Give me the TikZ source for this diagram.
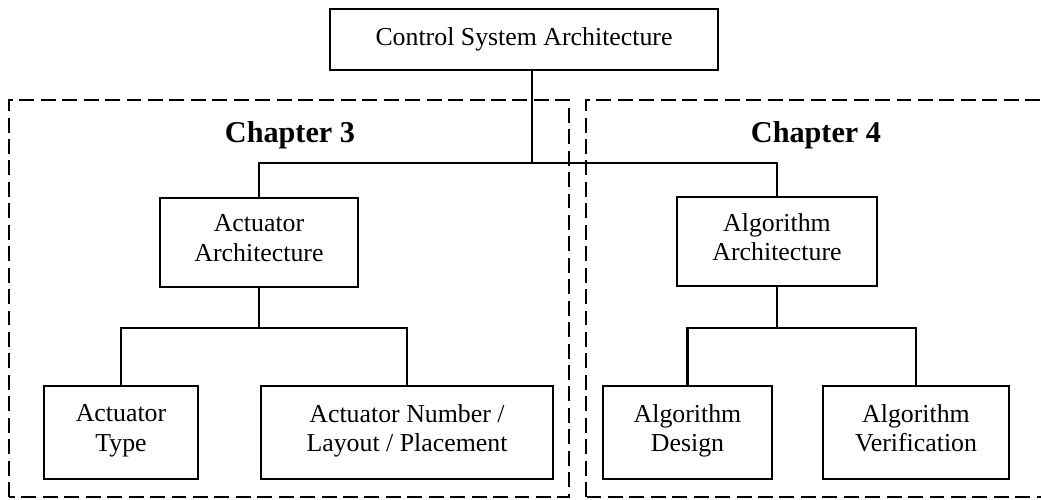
\documentclass[tikz,border=0pt]{standalone}
\usepackage{fontspec}
\setmainfont{Liberation Serif}

\begin{document}
\begin{tikzpicture}[line width=1.3pt,
  box/.style={draw, align=center, inner sep=0pt, font=\fontsize{14.7}{16.8}\selectfont,
    execute at begin node=\strut, execute at end node=\strut},
  chapframe/.style={dash pattern=on 8.5pt off 3.7pt, line width=1.2pt},
  chaptitle/.style={anchor=base, font=\fontsize{17.2}{20}\selectfont\bfseries}]
  \useasboundingbox (0,0) rectangle (20.82,10);

  % chapter frames
  \draw[chapframe] (0.18,0.06) rectangle (11.38,8.0);
  \draw[chapframe] (11.72,0.06) rectangle (21.3,8.0);
  \node[chaptitle] (ch3) at (5.8,7.14) {Chapter 3};
  \node[chaptitle] (ch4) at (16.32,7.14) {Chapter 4};

  % top level
  \node[box, minimum width=7.76cm, minimum height=1.22cm] (csa) at (10.48,9.21) {Control System Architecture};

  % second level
  \node[box, minimum width=3.96cm, minimum height=1.78cm] (actarch) at (5.18,5.15) {Actuator\\Architecture};
  \node[box, minimum width=4.0cm, minimum height=1.78cm] (algarch) at (15.54,5.17) {Algorithm\\Architecture};

  % third level
  \node[box, minimum width=3.08cm, minimum height=1.86cm] (acttype) at (2.42,1.35) {Actuator\\Type};
  \node[box, minimum width=5.84cm, minimum height=1.86cm] (actnum) at (8.14,1.35) {Actuator Number /\\Layout / Placement};
  \node[box, minimum width=3.38cm, minimum height=1.86cm] (algdes) at (13.75,1.35) {Algorithm\\Design};
  \node[box, minimum width=3.72cm, minimum height=1.86cm] (algver) at (18.32,1.35) {Algorithm\\Verification};

  % branch points
  \coordinate (split) at (10.64,6.74);
  \coordinate (actsplit) at (actarch.south |- 0,3.44);
  \coordinate (algsplit) at (algarch.south |- 0,3.44);

  % connectors
  \draw (csa.south -| split) -- (split);
  \draw (actarch.north) |- (split) -| (algarch.north);
  \draw (actarch.south) -- (actsplit);
  \draw (acttype.north) |- (actsplit) -| (actnum.north);
  \draw (algarch.south) -- (algsplit);
  \draw (algdes.north) |- (algsplit) -| (algver.north);
\end{tikzpicture}
\end{document}
